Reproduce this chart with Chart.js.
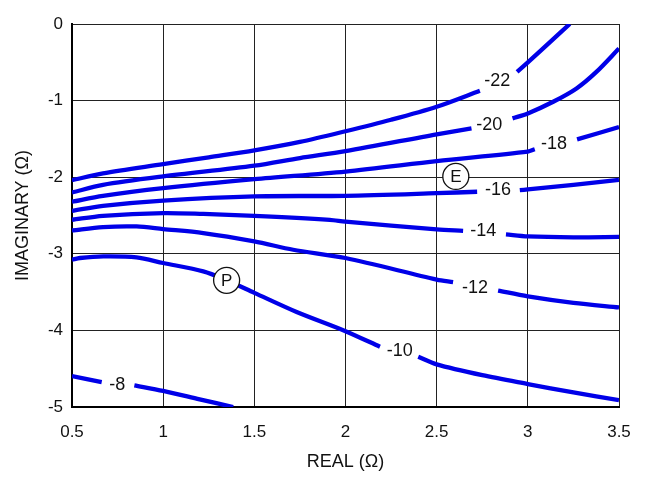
<!DOCTYPE html>
<html>
<head>
<meta charset="utf-8">
<script src="https://cdn.jsdelivr.net/npm/chart.js@4.4.1/dist/chart.umd.min.js"></script>
<style>
  html, body { margin: 0; padding: 0; background: #fff; }
  canvas { display: block; }
</style>
</head>
<body>
<canvas id="chart" width="646" height="486"></canvas>
<script>
// Axis ticks
const xTickValues = [0.5, 1, 1.5, 2, 2.5, 3, 3.5];
const xTickLabels = ['0.5', '1', '1.5', '2', '2.5', '3', '3.5'];
const yTickValues = [0, -1, -2, -3, -4, -5];
const yTickLabels = ['0', '-1', '-2', '-3', '-4', '-5'];

// Contour levels; each contour is a list of (real, imaginary) points.
// A null imaginary value leaves a break in the line where its label sits.
const levels = [-22, -20, -18, -16, -14, -12, -10, -8];

const re22 = [0.5, 0.67, 1.0, 1.25, 1.5, 1.75, 2.0, 2.25, 2.5, 2.737, 2.832, 2.941, 3.0, 3.12, 3.23];
const im22 = [-2.04, -1.95, -1.83, -1.74, -1.65, -1.54, -1.40, -1.25, -1.08, -0.872, null, -0.625, -0.50, -0.24, 0];

const re20 = [0.5, 0.67, 1.0, 1.5, 1.75, 2.0, 2.5, 2.691, 2.788, 2.916, 3.0, 3.139, 3.267, 3.376, 3.5];
const im20 = [-2.20, -2.10, -1.99, -1.85, -1.75, -1.66, -1.44, -1.362, null, -1.232, -1.167, -1.015, -0.841, -0.625, -0.32];

const re18 = [0.5, 0.67, 1.0, 1.5, 2.0, 2.5, 3.0, 3.038, 3.144, 3.27, 3.5];
const im18 = [-2.32, -2.243, -2.143, -2.026, -1.926, -1.79, -1.665, -1.636, null, -1.506, -1.345];

const re16 = [0.5, 0.67, 1.0, 1.5, 2.0, 2.5, 2.722, 2.837, 2.956, 3.0, 3.25, 3.5];
const im16 = [-2.44, -2.374, -2.305, -2.25, -2.243, -2.209, -2.19, null, -2.17, -2.16, -2.10, -2.035];

const re14 = [0.5, 0.67, 1.0, 1.22, 1.5, 1.914, 2.0, 2.5, 2.645, 2.755, 2.88, 3.0, 3.25, 3.5];
const im14 = [-2.556, -2.504, -2.469, -2.48, -2.504, -2.556, -2.58, -2.68, -2.70, null, -2.747, -2.773, -2.785, -2.78];

const re12 = [0.5, 0.67, 0.854, 1.0, 1.22, 1.5, 1.713, 2.0, 2.5, 2.59, 2.71, 2.837, 3.0, 3.25, 3.5];
const im12 = [-2.695, -2.651, -2.643, -2.677, -2.729, -2.838, -2.947, -3.055, -3.337, -3.37, null, -3.48, -3.555, -3.64, -3.70];

const re10 = [0.5, 0.544, 0.672, 0.854, 1.0, 1.22, 1.348, 1.5, 1.732, 2.0, 2.189, 2.298, 2.399, 2.5, 2.75, 3.0, 3.25, 3.5];
const im10 = [-3.077, -3.055, -3.034, -3.047, -3.12, -3.229, -3.346, -3.51, -3.76, -4.01, -4.214, null, -4.344, -4.444, -4.585, -4.70, -4.81, -4.91];

const re8 = [0.5, 0.663, 0.748, 0.842, 1.0, 1.2, 1.384];
const im8 = [-4.596, -4.674, null, -4.717, -4.79, -4.90, -5.0];

// Where each level's label is written
const labelRe = [2.832, 2.788, 3.144, 2.837, 2.755, 2.71, 2.298, 0.748];
const labelIm = [-0.733, -1.306, -1.549, -2.157, -2.686, -3.43, -4.262, -4.70];

// Circled operating points
const markerNames = ['E', 'P'];
const markerRe = [2.605, 1.348];
const markerIm = [-1.99, -3.346];

const contourRe = [re22, re20, re18, re16, re14, re12, re10, re8];
const contourIm = [im22, im20, im18, im16, im14, im12, im10, im8];

const LINE_BLUE = '#0000e8';
const INK = '#111';
const SANS = '"Liberation Sans", Arial, Helvetica, sans-serif';

const datasets = levels.map((lv, k) => ({
  label: String(lv),
  data: contourRe[k].map((r, i) => ({ x: r, y: contourIm[k][i] })),
  borderColor: LINE_BLUE,
  borderWidth: 4.3,
  pointRadius: 0,
  pointHoverRadius: 0,
  fill: false,
  spanGaps: false,
  tension: 0.3,
  borderCapStyle: 'butt'
}));

// Level labels and circled markers drawn over the contour lines
const annotate = {
  id: 'annotate',
  afterDatasetsDraw(chart) {
    const { ctx, scales: { x, y } } = chart;
    ctx.save();
    ctx.textAlign = 'center';
    ctx.textBaseline = 'middle';
    ctx.fillStyle = INK;
    ctx.font = '18px ' + SANS;
    levels.forEach((lv, i) => {
      ctx.fillText(String(lv), x.getPixelForValue(labelRe[i]), y.getPixelForValue(labelIm[i]) + 1);
    });
    markerNames.forEach((name, i) => {
      const px = x.getPixelForValue(markerRe[i]);
      const py = y.getPixelForValue(markerIm[i]);
      ctx.beginPath();
      ctx.arc(px, py, 13, 0, Math.PI * 2);
      ctx.fillStyle = '#fff';
      ctx.fill();
      ctx.lineWidth = 1.3;
      ctx.strokeStyle = INK;
      ctx.stroke();
      ctx.fillStyle = INK;
      ctx.font = '17px ' + SANS;
      ctx.fillText(name, px, py + 1);
    });
    ctx.restore();
  }
};

new Chart(document.getElementById('chart'), {
  type: 'line',
  data: { datasets },
  plugins: [annotate],
  options: {
    responsive: false,
    animation: false,
    devicePixelRatio: 1,
    layout: { padding: { left: 0, top: 24, right: 27, bottom: 0 } },
    plugins: {
      legend: { display: false },
      tooltip: { enabled: false }
    },
    scales: {
      x: {
        type: 'linear',
        min: 0.5,
        max: 3.5,
        afterFit: (s) => { s.height = 79; },
        afterBuildTicks: (s) => { s.ticks = xTickValues.map(v => ({ value: v })); },
        ticks: {
          callback: (v, i) => xTickLabels[i],
          color: INK,
          font: { family: SANS, size: 17 },
          padding: 15,
          maxRotation: 0,
          autoSkip: false
        },
        grid: { color: '#222', lineWidth: 1, drawTicks: false },
        border: { color: '#000', width: 2 },
        title: {
          display: true,
          text: 'REAL (Ω)',
          color: INK,
          font: { family: SANS, size: 18 },
          padding: { top: 0, bottom: 13 }
        }
      },
      y: {
        type: 'linear',
        min: -5,
        max: 0,
        afterFit: (s) => { s.width = 72; },
        afterBuildTicks: (s) => { s.ticks = yTickValues.map(v => ({ value: v })); },
        ticks: {
          callback: (v, i) => yTickLabels[i],
          color: INK,
          font: { family: SANS, size: 17 },
          padding: 9,
          autoSkip: false
        },
        grid: { color: '#222', lineWidth: 1, drawTicks: false },
        border: { color: '#000', width: 2 },
        title: {
          display: true,
          text: 'IMAGINARY (Ω)',
          color: INK,
          font: { family: SANS, size: 18 },
          padding: { top: 12, bottom: 0 }
        }
      }
    }
  }
});
</script>
</body>
</html>
